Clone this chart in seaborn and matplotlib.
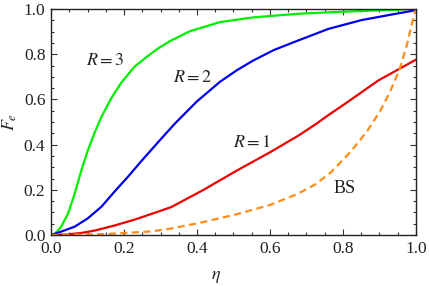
import numpy as np
import pandas as pd
import matplotlib
matplotlib.use("Agg")
import matplotlib.pyplot as plt
import seaborn as sns
from matplotlib import font_manager
from matplotlib.ticker import MultipleLocator, FormatStrFormatter

# ---- data ----
eta_r3 = [0.0, 0.010, 0.028, 0.047, 0.065, 0.083, 0.101, 0.120, 0.138, 0.165, 0.193,
          0.229, 0.266, 0.293, 0.326, 0.381, 0.463, 0.554, 0.678, 0.80, 0.90, 1.0]
fe_r3 = [0.0, 0.004, 0.037, 0.096, 0.184, 0.285, 0.375, 0.455, 0.522, 0.605, 0.675,
         0.745, 0.793, 0.825, 0.858, 0.902, 0.942, 0.963, 0.979, 0.988, 0.994, 1.0]

eta_r2 = [0.0, 0.028, 0.065, 0.101, 0.138, 0.174, 0.211, 0.247, 0.293, 0.340, 0.399,
          0.463, 0.510, 0.554, 0.610, 0.668, 0.760, 0.851, 0.942, 1.0]
fe_r2 = [0.0, 0.015, 0.037, 0.074, 0.125, 0.192, 0.258, 0.326, 0.410, 0.494, 0.590,
         0.678, 0.730, 0.772, 0.818, 0.855, 0.912, 0.951, 0.978, 0.995]

eta_r1 = [0.0, 0.040, 0.083, 0.121, 0.174, 0.229, 0.293, 0.330, 0.417, 0.509, 0.600,
          0.678, 0.723, 0.764, 0.805, 0.897, 1.0]
fe_r1 = [0.0, 0.002, 0.009, 0.020, 0.042, 0.068, 0.103, 0.124, 0.199, 0.285, 0.366,
         0.440, 0.488, 0.535, 0.580, 0.684, 0.776]

eta_bs = [0.0, 0.15, 0.276, 0.330, 0.417, 0.509, 0.600, 0.673, 0.720, 0.764, 0.819,
          0.865, 0.901, 0.929, 0.956, 0.975, 0.988, 0.997, 1.0]
fe_bs = [0.0, 0.004, 0.016, 0.029, 0.057, 0.092, 0.133, 0.180, 0.220, 0.273, 0.365,
         0.457, 0.546, 0.634, 0.737, 0.841, 0.929, 0.988, 1.0]

series_names = ["R3", "R2", "R1", "BS"]
labels = ["$R=3$", "$R=2$", "$R=1$", "BS"]
label_pos = [(0.148, 0.774), (0.389, 0.695), (0.551, 0.41), (0.803, 0.204)]

sns.set_style("ticks")
serif = []
for n in ["Liberation Serif", "Times New Roman", "Nimbus Roman", "STIXGeneral"]:
    try:
        font_manager.findfont(font_manager.FontProperties(family=n),
                              fallback_to_default=False)
        serif.append(n)
    except Exception:
        pass
serif.append("DejaVu Serif")
plt.rcParams["font.family"] = serif
plt.rcParams["mathtext.fontset"] = "stix"

fig = plt.figure(figsize=(4.29, 2.86), dpi=100)
ax = fig.add_axes([51 / 429, 1 - 235 / 286, 365 / 429, 226 / 286])

df = pd.concat([
    pd.DataFrame({"eta": eta_r3, "Fe": fe_r3, "s": "R3"}),
    pd.DataFrame({"eta": eta_r2, "Fe": fe_r2, "s": "R2"}),
    pd.DataFrame({"eta": eta_r1, "Fe": fe_r1, "s": "R1"}),
    pd.DataFrame({"eta": eta_bs, "Fe": fe_bs, "s": "BS"}),
])
colors = {"R3": "#00ee00", "R2": "#0000ee", "R1": "#ee0000", "BS": "#ff8c1a"}
for name in series_names:
    sub = df[df.s == name]
    ls = (0, (3.2, 2.0)) if name == "BS" else "-"
    sns.lineplot(data=sub, x="eta", y="Fe", ax=ax, color=colors[name], lw=1.6,
                 linestyle=ls, sort=False, estimator=None)

for lab, (x, y) in zip(labels, label_pos):
    ax.text(x, y, lab, ha="center", va="center", fontsize=13, color="#222222")

ax.set_xlim(0, 1)
ax.set_ylim(0, 1)
ax.xaxis.set_major_locator(MultipleLocator(0.2))
ax.yaxis.set_major_locator(MultipleLocator(0.2))
ax.xaxis.set_minor_locator(MultipleLocator(0.05))
ax.yaxis.set_minor_locator(MultipleLocator(0.05))
ax.xaxis.set_major_formatter(FormatStrFormatter("%.1f"))
ax.yaxis.set_major_formatter(FormatStrFormatter("%.1f"))
ax.tick_params(which="both", direction="in", top=True, right=True, colors="#333333",
               labelcolor="#222222", labelsize=12.5, width=0.8)
ax.tick_params(which="major", length=4, pad=4)
ax.tick_params(which="minor", length=2.2)
for sp in ax.spines.values():
    sp.set_color("#222222")
    sp.set_linewidth(1.0)

ax.set_xlabel(r"$\eta$", fontsize=13, color="#222222")
ax.set_ylabel(r"$F_e$", fontsize=13, color="#222222")
ax.xaxis.set_label_coords(0.452, -0.145)
ax.yaxis.set_label_coords(-0.088, 0.5)

fig.savefig("out.png", dpi=100)
